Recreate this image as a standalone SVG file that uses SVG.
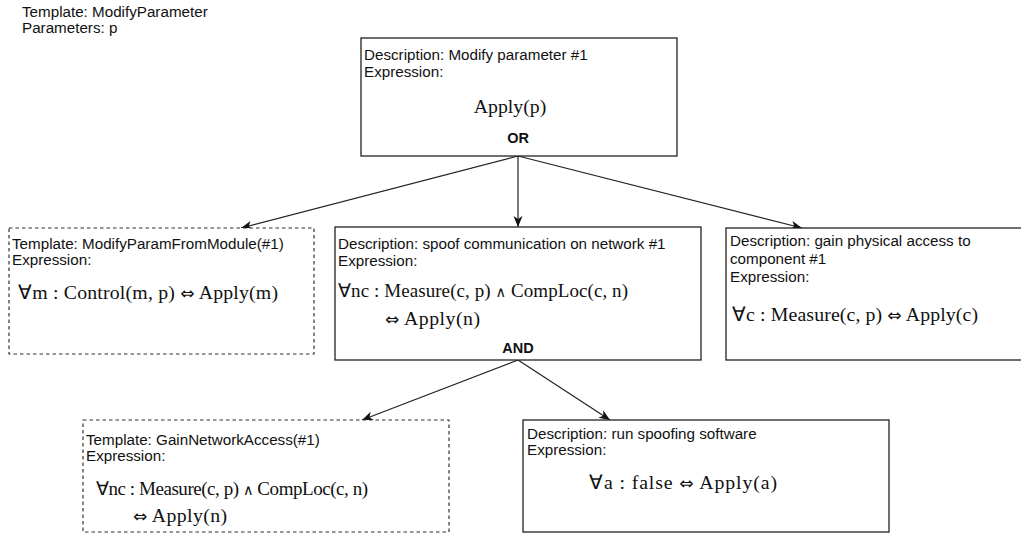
<svg xmlns="http://www.w3.org/2000/svg" width="1021" height="533" viewBox="0 0 1021 533">
<style>
.lbl{font-family:"Liberation Sans",Arial,sans-serif;font-size:15.2px;fill:#111}
.op{font-family:"Liberation Sans",Arial,sans-serif;font-size:14.5px;font-weight:bold;fill:#111}
.math{font-family:"Liberation Serif","Times New Roman",serif;font-size:19.8px;fill:#111}
.m2{font-size:19px}
.sym{font-family:"DejaVu Sans",sans-serif;font-size:17px}
.and{font-family:"DejaVu Sans",sans-serif;font-size:14.5px}
.box{fill:#fff;stroke:#222;stroke-width:1.3}
.dash{fill:#fff;stroke:#333;stroke-width:1.2;stroke-dasharray:3.5 3}
.edge{fill:none;stroke:#222;stroke-width:1.2}
</style>
<defs>
<marker id="arr" markerUnits="userSpaceOnUse" markerWidth="12" markerHeight="10" refX="11" refY="4.5" orient="auto">
<path d="M0,0 L11,4.5 L0,9 L3,4.5 z" fill="#111"/>
</marker>
</defs>
<rect width="1021" height="533" fill="#fff"/>
<g id="header">
<text class="lbl" x="22" y="17">Template: ModifyParameter</text>
<text class="lbl" x="22" y="33">Parameters: p</text>
</g>
<g id="connectors">
<line class="edge" x1="518" y1="156" x2="241" y2="228" marker-end="url(#arr)"/>
<line class="edge" x1="518" y1="156" x2="518" y2="227" marker-end="url(#arr)"/>
<line class="edge" x1="518" y1="156" x2="802" y2="228" marker-end="url(#arr)"/>
<line class="edge" x1="518" y1="360" x2="362" y2="420" marker-end="url(#arr)"/>
<line class="edge" x1="518" y1="360" x2="610" y2="420" marker-end="url(#arr)"/>
</g>
<g id="node-root">
<rect class="box" x="361" y="38" width="316" height="118"/>
<text class="lbl" x="364" y="60">Description: Modify parameter #1</text>
<text class="lbl" x="364" y="77">Expression:</text>
<text class="math" x="510" y="113" text-anchor="middle">Apply(p)</text>
<text class="op" x="518" y="143" text-anchor="middle">OR</text>
</g>
<g id="node-module">
<rect class="dash" x="9" y="228" width="305" height="126"/>
<text class="lbl" x="12" y="249">Template: ModifyParamFromModule(#1)</text>
<text class="lbl" x="12" y="265">Expression:</text>
<text class="math" x="18" y="299" textLength="260" lengthAdjust="spacing">∀m : Control(m, p) <tspan class="sym">⇔</tspan> Apply(m)</text>
</g>
<g id="node-spoof">
<rect class="box" x="335" y="227" width="366" height="133"/>
<text class="lbl" x="338" y="249">Description: spoof communication on network #1</text>
<text class="lbl" x="338" y="266">Expression:</text>
<text class="math m2" x="338" y="297" textLength="290" lengthAdjust="spacing">∀nc : Measure(c, p) <tspan class="and">∧</tspan> CompLoc(c, n)</text>
<text class="math" x="385" y="325" textLength="95" lengthAdjust="spacing"><tspan class="sym">⇔</tspan> Apply(n)</text>
<text class="op" x="518" y="353" text-anchor="middle">AND</text>
</g>
<g id="node-physical">
<rect class="box" x="726" y="228" width="300" height="132"/>
<text class="lbl" x="730" y="246">Description: gain physical access to</text>
<text class="lbl" x="730" y="264">component #1</text>
<text class="lbl" x="730" y="282">Expression:</text>
<text class="math" x="732" y="321" textLength="246" lengthAdjust="spacing">∀c : Measure(c, p) <tspan class="sym">⇔</tspan> Apply(c)</text>
</g>
<g id="node-network">
<rect class="dash" x="83" y="420" width="366" height="112"/>
<text class="lbl" x="86" y="445">Template: GainNetworkAccess(#1)</text>
<text class="lbl" x="86" y="461">Expression:</text>
<text class="math m2" x="96" y="495" textLength="272" lengthAdjust="spacing">∀nc : Measure(c, p) <tspan class="and">∧</tspan> CompLoc(c, n)</text>
<text class="math" x="133" y="522" textLength="94" lengthAdjust="spacing"><tspan class="sym">⇔</tspan> Apply(n)</text>
</g>
<g id="node-software">
<rect class="box" x="523" y="420" width="366" height="112"/>
<text class="lbl" x="527" y="439">Description: run spoofing software</text>
<text class="lbl" x="527" y="455">Expression:</text>
<text class="math" x="589" y="489" textLength="188" lengthAdjust="spacing">∀a : false <tspan class="sym">⇔</tspan> Apply(a)</text>
</g>
</svg>
